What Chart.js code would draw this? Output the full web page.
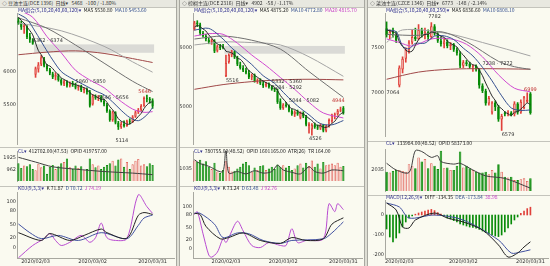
<!DOCTYPE html>
<html>
<head>
<meta charset="utf-8">
<script src="https://cdn.jsdelivr.net/npm/chart.js@4.4.1/dist/chart.umd.min.js"></script>
<style>
body { margin:0; background:#fafaf0; width:550px; height:266px; overflow:hidden; position:relative;
       font-family:"Noto Sans CJK SC","DejaVu Sans",sans-serif; }
canvas { position:absolute; }
.t { position:absolute; font-size:5px; line-height:8px; white-space:nowrap; color:#333; z-index:3; }
.hl { position:absolute; height:1px; background:#c4c4bc; }
#top { position:absolute; left:0; top:0; width:550px; height:7px; background:#e8e8e0; border-bottom:1px solid #c4c4bc; }
.sep { position:absolute; top:0; width:2px; height:266px; background:#deded4; border-left:1px solid #a8a8a0; border-right:1px solid #a8a8a0; }
.ma { color:#2c2c8c; } .k { color:#222; } .d { color:#35508f; } .m { color:#c640c6; }
</style>
</head>
<body>
<div id="top"></div>
<div class="sep" style="left:176px"></div>
<div class="sep" style="left:364px"></div>
<div class="hl" style="left:0;top:147px;width:176px"></div>
<div class="hl" style="left:0;top:186px;width:176px"></div>
<div class="hl" style="left:180px;top:147px;width:184px"></div>
<div class="hl" style="left:180px;top:186px;width:184px"></div>
<div class="hl" style="left:368px;top:141px;width:182px"></div>
<div class="hl" style="left:368px;top:195px;width:182px"></div>
<div id="charts"></div>

<div class="t" style="left:2px;top:-1px">◇ 豆油主连(DCE 1396) &nbsp;日线▾ &nbsp;&nbsp;5468 &nbsp;&nbsp;-100 / -1.80%</div>
<div class="t" style="left:182px;top:-1px">◇ 棕榈主连(DCE 2316) &nbsp;日线▾ &nbsp;&nbsp;4902 &nbsp;&nbsp;-58 / -1.17%</div>
<div class="t" style="left:370px;top:-1px">◇ 菜油主连(CZCE 1346) &nbsp;日线▾ &nbsp;&nbsp;6773 &nbsp;&nbsp;-148 / -2.14%</div>

<div class="t" style="left:18px;top:6px"><span class="ma">MA组合(5,10,20,40,60,120)▾</span> &nbsp;<span class="k">MA5 5530.80</span> &nbsp;<span class="d">MA10 5453.60</span></div>
<div class="t" style="left:194px;top:6px"><span class="ma">MA组合(5,10,20,40,60,120)▾</span> &nbsp;<span class="k">MA5 4875.20</span> &nbsp;<span class="d">MA10 4772.80</span> &nbsp;<span class="m">MA20 4815.70</span></div>
<div class="t" style="left:386px;top:6px"><span class="ma">MA组合(5,10,20,40,60,250)▾</span> &nbsp;<span class="k">MA5 6836.60</span> &nbsp;<span class="d">MA10 6808.10</span></div>

<div class="t" style="left:18px;top:147px"><span class="ma">CL▾</span> &nbsp;<span class="k">412702.00(47.53)</span> &nbsp;<span class="k">OPID 419757.00</span></div>
<div class="t" style="left:194px;top:147px"><span class="ma">CL▾</span> &nbsp;<span class="k">780755.00(48.52)</span> &nbsp;<span class="k">OPID 1601165.00</span> &nbsp;<span class="k">ATR(26)</span> &nbsp;<span class="k">TR 164.00</span></div>
<div class="t" style="left:386px;top:139px"><span class="ma">CL▾</span> &nbsp;<span class="k">133984.00(48.52)</span> &nbsp;<span class="k">OPID 58373.00</span></div>

<div class="t" style="left:18px;top:184px"><span class="ma">KDJ(9,3,3)▾</span> &nbsp;<span class="k">K 71.87</span> &nbsp;<span class="d">D 70.72</span> &nbsp;<span class="m">J 74.19</span></div>
<div class="t" style="left:194px;top:184px"><span class="ma">KDJ(9,3,3)▾</span> &nbsp;<span class="k">K 73.24</span> &nbsp;<span class="d">D 63.48</span> &nbsp;<span class="m">J 92.76</span></div>
<div class="t" style="left:386px;top:193px"><span class="ma">MACD(12,26,9)▾</span> &nbsp;<span class="k">DIFF -134.35</span> &nbsp;<span class="d">DEA -173.84</span> &nbsp;<span class="m">38.98</span></div>

<script>
// trading days (no trading Jan 24 - Feb 2)
var tradeDates = ['2020/01/09','2020/01/10','2020/01/13','2020/01/14','2020/01/15','2020/01/16','2020/01/17',
  '2020/01/20','2020/01/21','2020/01/22','2020/01/23',
  '2020/02/03','2020/02/04','2020/02/05','2020/02/06','2020/02/07','2020/02/10','2020/02/11','2020/02/12',
  '2020/02/13','2020/02/14','2020/02/17','2020/02/18','2020/02/19','2020/02/20','2020/02/21','2020/02/24',
  '2020/02/25','2020/02/26','2020/02/27','2020/02/28',
  '2020/03/02','2020/03/03','2020/03/04','2020/03/05','2020/03/06','2020/03/09','2020/03/10','2020/03/11',
  '2020/03/12','2020/03/13','2020/03/16','2020/03/17','2020/03/18','2020/03/19','2020/03/20','2020/03/23',
  '2020/03/24','2020/03/25','2020/03/26','2020/03/27','2020/03/30','2020/03/31'];
var dateTicks = ['2020/02/03','2020/03/02','2020/03/31'];

var p1Dates = tradeDates.slice(5);
var p2Dates = tradeDates.slice(0);
var p3Dates = tradeDates.slice(7);

// ---- panel 1: 豆油 [open, high, low, close]
var p1Ohlc = [[6800,6840,6740,6760],[6760,6790,6660,6690],[6700,6740,6600,6720],[6710,6720,6520,6540],
  [6550,6600,6460,6500],[6490,6520,6430,6440],[5960,6080,5920,6060],[6040,6150,6000,6120],[6120,6260,6100,6230],
  [6200,6230,6080,6100],[6100,6120,6020,6050],[6040,6060,5960,5980],[5980,6000,5900,5920],[5930,5990,5880,5960],
  [5950,5970,5860,5880],[5880,5900,5800,5820],[5820,5880,5790,5860],[5850,5870,5770,5790],[5790,5850,5770,5830],
  [5830,5860,5780,5800],[5800,5830,5740,5760],[5760,5800,5720,5780],[5780,5800,5700,5720],[5720,5760,5680,5740],
  [5740,5760,5660,5690],[5700,5720,5460,5480],[5500,5656,5490,5630],[5630,5650,5580,5600],[5600,5640,5560,5620],
  [5620,5640,5540,5560],[5560,5580,5480,5500],[5500,5520,5380,5400],[5400,5420,5240,5260],[5260,5400,5240,5380],
  [5380,5390,5200,5220],[5220,5240,5114,5150],[5150,5230,5130,5200],[5200,5250,5150,5170],[5170,5260,5160,5240],
  [5240,5280,5200,5230],[5230,5330,5220,5310],[5310,5400,5300,5380],[5380,5440,5360,5420],[5420,5500,5400,5480],
  [5480,5620,5470,5600],[5600,5646,5540,5590],[5590,5610,5520,5568],[5568,5590,5440,5468]];
var p1Ma5 = [6850,6800,6760,6700,6642,6578,6452,6332,6270,6190,6112,6096,6056,6002,5958,5912,5888,5862,5836,5820,
  5808,5792,5778,5760,5738,5682,5652,5628,5604,5578,5582,5536,5468,5420,5352,5282,5242,5224,5196,5198,
  5230,5266,5316,5364,5438,5494,5532,5541];
var p1Ma10 = [[0,6900],[3,6820],[6,6620],[9,6400],[12,6190],[15,6010],[18,5920],[21,5850],[24,5780],[27,5710],
  [30,5650],[33,5540],[36,5410],[39,5300],[42,5250],[45,5340],[47,5453]];
var p1Ma20 = [[0,6960],[5,6850],[10,6550],[15,6300],[20,6030],[25,5880],[30,5760],[35,5580],[40,5430],[44,5380],[47,5390]];
var p1Ma40 = [[0,6840],[10,6680],[20,6420],[30,6140],[40,5860],[47,5700]];
var p1Ma60 = [[0,6760],[15,6640],[30,6400],[40,6160],[47,6000]];
var p1Ma120 = [[0,6270],[10,6310],[20,6330],[30,6290],[40,6210],[47,6150]];
var p1Vol = [1500,1100,1300,1250,1400,1000,900,1450,1150,1300,600,1200,1350,1000,1250,1500,1600,1900,1150,1000,
  1300,1100,1250,900,1000,1900,1400,1150,1300,1000,1200,1350,1500,1700,1300,1800,1900,1200,1600,1000,
  1400,1700,1850,1300,1400,1250,1500,1350];
var p1Oi = [[0,53],[6,50],[12,47],[20,45.5],[30,44],[40,43],[47,42]];
var p1K = [[0,32],[8,15],[11,30],[18,15],[23,26],[29,40],[31,32],[38,20],[42,70],[44,76],[47,71.9]];
var p1D = [[0,51],[4,32],[8,19],[14,26],[21,15],[29,32],[38,19],[42,48],[44,64],[47,70.7]];
var p1J = [[0,-23],[5,4],[9,19],[11,30],[13,15],[15,4],[18,11],[22,26],[25,11],[27,21],[29,53],[31,21],[34,15],
  [38,19],[42,115],[45,89],[47,74.2]];
var p1Gap = [6, 6300, 6430];
var p1Marks = [[5,6480,'6362 · 6374'],[20,5850,'5860 · 5850'],[28,5610,'5646 · 5656'],[34,4935,'5114'],[42,5700,'5646','#c03030']];

// ---- panel 2: 棕榈
var p2Ohlc = [[6320,6450,6300,6430],[6430,6460,6360,6400],[6400,6420,6220,6250],[6250,6280,6180,6200],
  [6200,6230,6120,6150],[6140,6170,6070,6100],[6100,6150,6060,6130],[6120,6140,5920,5940],[5950,6050,5930,6030],
  [6030,6060,5970,6000],[6020,6060,5985,6000],[5520,5880,5516,5750],[5760,5900,5740,5880],[5880,5960,5850,5940],
  [5940,5950,5820,5840],[5840,5860,5700,5720],[5720,5760,5640,5660],[5660,5700,5600,5620],[5620,5660,5560,5580],
  [5580,5620,5480,5500],[5500,5560,5460,5540],[5540,5560,5420,5440],[5440,5480,5400,5460],[5460,5480,5380,5400],
  [5400,5440,5330,5360],[5360,5420,5340,5400],[5400,5410,5320,5340],[5340,5360,5284,5300],[5300,5320,5260,5280],
  [5280,5300,5060,5080],[5100,5140,4960,4980],[4980,5060,4960,5044],[5044,5082,5000,5020],[5020,5040,4920,4940],
  [4940,4960,4860,4880],[4880,4940,4840,4920],[4920,4950,4860,4880],[4820,4920,4800,4900],[4900,4920,4820,4840],
  [4840,4860,4680,4700],[4680,4740,4560,4720],[4620,4720,4526,4700],[4700,4730,4640,4660],[4660,4700,4620,4640],
  [4640,4720,4620,4700],[4700,4710,4580,4600],[4600,4700,4580,4680],[4680,4800,4660,4780],[4760,4880,4740,4860],
  [4860,4900,4800,4880],[4880,4960,4860,4940],[4940,5000,4920,4960],[4990,5010,4880,4902]];
var p2Ma5 = [6350,6380,6360,6320,6286,6220,6166,6104,6070,6040,6020,5944,5932,5914,5882,5826,5808,5756,5684,5616,
  5580,5536,5504,5468,5440,5412,5392,5360,5336,5280,5196,5137,5081,5013,4973,4961,4928,4904,4884,4848,
  4808,4772,4724,4684,4684,4660,4656,4680,4724,4760,4828,4884,4908];
var p2Ma10 = [[0,6300],[5,6330],[10,6150],[13,6000],[16,5880],[20,5720],[24,5530],[28,5400],[32,5200],[36,5020],
  [40,4870],[44,4720],[48,4700],[52,4773]];
var p2Ma20 = [[0,6200],[5,6240],[10,6230],[15,6080],[20,5880],[25,5700],[30,5500],[35,5300],[40,5080],[45,4900],[52,4816]];
var p2Ma40 = [[0,6150],[10,6200],[20,6130],[30,5980],[40,5600],[52,5164]];
var p2Ma60 = [[0,6050],[10,6100],[20,6090],[30,6050],[40,5850],[52,5520]];
var p2Ma120 = [[0,5300],[10,5380],[20,5430],[30,5460],[40,5470],[52,5460]];
var p2Vol = [1790,1660,1860,1520,1730,1240,1040,1590,830,690,970,1730,1240,830,900,1100,1240,1520,1660,1380,
  830,1170,970,1310,1380,970,1100,1240,1040,1450,1240,1380,1170,1310,970,1100,1380,1520,1170,1590,
  1310,1790,1240,1520,1100,1660,1380,1450,1520,1380,1590,1240,1310];
var p2Tr = [[0,340],[2,277],[4,252],[6,214],[8,164],[10,151],[11,529],[12,126],[15,151],[18,113],[21,164],[24,126],
  [27,151],[29,252],[31,176],[34,139],[37,113],[40,227],[42,151],[45,126],[48,176],[52,164]];
var p2K = [[0,84],[2,81],[4,53],[9,23],[12,26],[17,37],[23,19],[30,12],[34,26],[39,19],[45,23],[48,58],[52,73.2]];
var p2D = [[0,84],[2,84],[7,58],[10,26],[15,37],[19,35],[24,19],[30,12],[34,19],[45,23],[48,37],[52,63.5]];
var p2J = [[0,81],[1,88],[3,35],[5,-16],[6,-21],[8,-9],[10,23],[11,14],[12,26],[15,65],[17,42],[20,7],[23,2],[26,14],
  [30,7],[32,7],[34,47],[36,14],[39,19],[45,23],[47,107],[49,88],[50,107],[52,92.8]];
var p2Gap = [11, 5902, 6033];
var p2Marks = [[11,5440,'5516'],[27,5430,'5332 · 5360'],[27,5330,'5284 · 5292'],[33,5115,'5044 · 5082'],
  [48,5100,'4944','#c03030'],[40,4470,'4526']];

// ---- panel 3: 菜油
var p3Ohlc = [[7720,7790,7620,7640],[7640,7700,7600,7680],[7680,7720,7620,7660],[7660,7680,7560,7580],
  [7080,7300,7064,7280],[7260,7400,7220,7380],[7380,7500,7340,7480],[7480,7580,7440,7560],[7560,7700,7540,7620],
  [7620,7720,7580,7600],[7600,7760,7590,7700],[7700,7720,7620,7650],[7650,7720,7600,7680],[7680,7700,7580,7620],
  [7620,7782,7600,7740],[7740,7760,7640,7660],[7660,7680,7560,7580],[7580,7620,7520,7540],[7540,7600,7500,7570],
  [7570,7590,7500,7520],[7520,7560,7480,7540],[7540,7550,7460,7480],[7480,7500,7420,7440],[7440,7460,7280,7300],
  [7300,7360,7280,7340],[7340,7360,7300,7320],[7320,7340,7270,7290],[7290,7310,7238,7300],[7300,7310,7240,7260],
  [7260,7270,7050,7080],[7080,7100,7000,7020],[7020,7040,6860,6880],[6880,6960,6860,6940],[6780,6900,6760,6890],
  [6890,6910,6800,6840],[6840,6860,6680,6700],[6700,6760,6579,6740],[6780,6790,6740,6760],[6760,6800,6740,6780],
  [6780,6790,6740,6750],[6760,6900,6740,6880],[6880,6890,6760,6780],[6780,6920,6770,6900],[6830,6960,6820,6950],
  [6900,6999,6890,6921],[6990,7003,6760,6773]];
var p3Ma5 = [7700,7690,7680,7660,7568,7516,7476,7456,7464,7528,7592,7626,7650,7650,7678,7670,7656,7628,7618,7574,
  7550,7530,7510,7456,7420,7376,7338,7310,7302,7250,7190,7108,7036,6962,6914,6850,6822,6786,6764,6746,
  6782,6790,6818,6852,6886,6865];
var p3Ma10 = [[0,7700],[3,7680],[5,7520],[7,7490],[9,7550],[12,7553],[15,7631],[18,7634],[21,7593],[24,7497],
  [27,7410],[30,7283],[33,7132],[36,6965],[39,6830],[42,6802],[45,6808]];
var p3Ma20 = [[0,7600],[4,7560],[8,7520],[14,7600],[20,7600],[25,7540],[30,7400],[35,7200],[40,7050],[45,7010]];
var p3Ma40 = [[0,7650],[10,7640],[17,7680],[25,7570],[35,7350],[40,7290],[45,7260]];
var p3Ma60 = [[0,7560],[5,7700],[19,7660],[30,7560],[45,7410]];
var p3Ma250 = [[0,7150],[10,7230],[20,7262],[30,7268],[45,7262]];
var p3Vol = [1860,1780,1940,2030,2030,1940,1860,2590,2430,2190,3240,2840,3080,2190,2670,2430,2110,3890,2190,2270,
  2030,2030,2430,3810,2270,2430,2190,2030,1860,1780,1780,1860,1620,2030,1780,2590,1860,1380,1300,1380,
  1050,1050,1130,1220,970,1220];
var p3Oi = [[0,88],[3,80],[7,77],[9,103],[11,102],[14,95],[16,97],[17,90],[21,87],[23,88],[27,80],[31,73],[37,70],[45,58.4]];
var p3Diff = [[0,60],[3,25],[5,-60],[7,-65],[9,-25],[15,10],[19,-15],[24,-35],[30,-75],[35,-150],[38,-210],[41,-190],[43,-160],[45,-134]];
var p3Dea = [[0,60],[4,40],[7,-15],[15,0],[24,-25],[35,-125],[39,-190],[42,-185],[45,-174]];
var p3Hist = [-70,-110,-135,-115,-90,-60,-35,-15,-5,4,10,15,20,25,28,22,12,4,-5,-15,-20,-28,-35,-45,-50,-55,-60,-62,
  -66,-72,-80,-88,-95,-100,-105,-108,-100,-85,-65,-45,-25,-10,8,20,32,39];
var p3Marks = [[13,7850,'7782'],[0,7000,'7064'],[30,7320,'7238 · 7272'],[36,6530,'6579'],[43,7030,'6999','#c03030']];

var RED = '#e0403a', GREEN = '#078a07', BG = '#fafaf0';
var MA_COL = ['#2a2a2a', '#35508f', '#d04ad0', '#707070', '#a4a4a4', '#a04848'];

function place(x, y, w, h) {
  var c = document.createElement('canvas');
  c.width = w; c.height = h;
  c.style.left = x + 'px'; c.style.top = y + 'px';
  document.getElementById('charts').appendChild(c);
  return c;
}

function sparse(pairs, dates) {
  return pairs.map(function(p) { return { x: dates[p[0]], y: p[1] }; });
}

function ln(data, color, axis) {
  return { type: 'line', data: data, borderColor: color, borderWidth: 1, pointRadius: 0,
    tension: 0.3, fill: false, spanGaps: true, order: 0, yAxisID: axis || 'y' };
}

function yAxis(min, max, ticks, w) {
  return {
    min: min, max: max, position: 'left',
    grid: { display: false, drawTicks: false, tickLength: 0 },
    border: { display: true, color: '#a8a8a0' },
    afterFit: function(s) { s.width = w; },
    afterBuildTicks: function(s) { s.ticks = ticks.map(function(v) { return { value: v }; }); },
    ticks: { font: { size: 5, family: 'DejaVu Sans' }, color: '#333', padding: 1,
      callback: function(v) { return String(v); } }
  };
}

function hiddenX() {
  return { display: false, offset: true, grid: { offset: true } };
}

function dateX() {
  return {
    offset: true, grid: { display: false, drawTicks: false, tickLength: 0 },
    border: { display: true, color: '#a8a8a0' },
    afterFit: function(s) { s.height = 8; },
    ticks: { autoSkip: false, maxRotation: 0, minRotation: 0, padding: 1,
      font: { size: 5, family: 'DejaVu Sans' }, color: '#333',
      callback: function(v) {
        var l = this.getLabelForValue(v);
        return dateTicks.indexOf(l) >= 0 ? l : '';
      } }
  };
}

function opts(scales, pad) {
  return { responsive: false, animation: false, events: [],
    layout: { padding: pad },
    plugins: { legend: { display: false }, tooltip: { enabled: false } },
    scales: scales };
}

function marksPlugin(gap, marks) {
  return {
    id: 'marks',
    beforeDatasetsDraw: function(chart) {
      if (!gap) return;
      var ctx = chart.ctx, x = chart.scales.x, y = chart.scales.y;
      var n = chart.data.datasets[0].data.length;
      var x0 = x.getPixelForValue(gap[0]) - 1.5, x1 = x.getPixelForValue(n - 1) + 1.5;
      var yt = y.getPixelForValue(gap[2]), yb = y.getPixelForValue(gap[1]);
      ctx.save();
      ctx.fillStyle = 'rgba(196,196,196,0.6)';
      ctx.fillRect(x0, yt, x1 - x0, yb - yt);
      ctx.restore();
    },
    afterDatasetsDraw: function(chart) {
      var ctx = chart.ctx, x = chart.scales.x, y = chart.scales.y;
      ctx.save();
      ctx.font = '5px "DejaVu Sans"';
      ctx.textBaseline = 'middle';
      marks.forEach(function(m) {
        ctx.fillStyle = m[3] || '#333';
        ctx.fillText(m[2], x.getPixelForValue(m[0]), y.getPixelForValue(m[1]));
      });
      ctx.restore();
    }
  };
}

function candleSets(ohlc) {
  var up = ohlc.map(function(d) { return d[3] >= d[0]; });
  return [
    { type: 'bar', data: ohlc.map(function(d) { return [d[2], d[1]]; }),
      backgroundColor: up.map(function(u) { return u ? RED : GREEN; }),
      barThickness: 1, grouped: false, order: 3 },
    { type: 'bar', data: ohlc.map(function(d) { return [Math.min(d[0], d[3]), Math.max(d[0], d[3])]; }),
      backgroundColor: up.map(function(u) { return u ? BG : GREEN; }),
      borderColor: up.map(function(u) { return u ? RED : GREEN; }),
      borderWidth: 1, borderSkipped: false, barPercentage: 1, categoryPercentage: 0.8,
      grouped: false, order: 2 }
  ];
}

function volSet(vol, ohlc) {
  var up = ohlc.map(function(d) { return d[3] >= d[0]; });
  return { type: 'bar', data: vol,
    backgroundColor: up.map(function(u) { return u ? '#f4d4d0' : GREEN; }),
    borderColor: up.map(function(u) { return u ? '#e05a50' : GREEN; }),
    borderWidth: 0.8, borderSkipped: 'start', barPercentage: 1, categoryPercentage: 0.78,
    grouped: false, order: 2 };
}

function labelsFor(dates, blanks) {
  return dates.concat(Array(blanks).fill(''));
}

// ================= panel 1
(function() {
  var L = labelsFor(p1Dates, 7), X = 0, W = 176, AW = 17;
  new Chart(place(X, 9, W, 139), {
    type: 'bar',
    data: { labels: L, datasets: candleSets(p1Ohlc).concat([
      ln(p1Ma5, MA_COL[0]), ln(sparse(p1Ma10, p1Dates), MA_COL[1]), ln(sparse(p1Ma20, p1Dates), MA_COL[2]),
      ln(sparse(p1Ma40, p1Dates), MA_COL[3]), ln(sparse(p1Ma60, p1Dates), MA_COL[4]),
      ln(sparse(p1Ma120, p1Dates), MA_COL[5])]) },
    options: opts({ x: hiddenX(), y: yAxis(4890, 6915, [5500, 6000], AW) }, { top: 2, bottom: 2, right: 2 }),
    plugins: [marksPlugin(p1Gap, p1Marks)]
  });
  new Chart(place(X, 147, W, 38), {
    type: 'bar',
    data: { labels: L, datasets: [volSet(p1Vol, p1Ohlc), ln(sparse(p1Oi, p1Dates), '#404040', 'y2')] },
    options: opts({ x: hiddenX(), y: yAxis(0, 2523, [962, 1925], AW), y2: { display: false, min: 38, max: 57 } },
      { right: 2 })
  });
  new Chart(place(X, 188, W, 78), {
    type: 'bar',
    data: { labels: L, datasets: [ln(sparse(p1K, p1Dates), '#222'), ln(sparse(p1D, p1Dates), '#4050a0'),
      ln(sparse(p1J, p1Dates), '#b84ad0')] },
    options: opts({ x: dateX(), y: yAxis(-23.4, 121, [0, 20, 50, 80, 100], AW) }, { top: 2, right: 2 })
  });
})();

// ================= panel 2
(function() {
  var L = labelsFor(p2Dates, 6), X = 180, W = 184, AW = 13;
  new Chart(place(X, 9, W, 139), {
    type: 'bar',
    data: { labels: L, datasets: candleSets(p2Ohlc).concat([
      ln(p2Ma5, MA_COL[0]), ln(sparse(p2Ma10, p2Dates), MA_COL[1]), ln(sparse(p2Ma20, p2Dates), MA_COL[2]),
      ln(sparse(p2Ma40, p2Dates), MA_COL[3]), ln(sparse(p2Ma60, p2Dates), MA_COL[4]),
      ln(sparse(p2Ma120, p2Dates), MA_COL[5])]) },
    options: opts({ x: hiddenX(), y: yAxis(4376, 6590, [5000, 6000], AW) }, { top: 2, bottom: 2, right: 2 }),
    plugins: [marksPlugin(p2Gap, p2Marks)]
  });
  new Chart(place(X, 147, W, 38), {
    type: 'bar',
    data: { labels: L, datasets: [volSet(p2Vol, p2Ohlc), ln(sparse(p2Tr, p2Dates), '#404040', 'y2')] },
    options: opts({ x: hiddenX(), y: yAxis(0, 2622, [1035], AW), y2: { display: false, min: 0, max: 479 } },
      { right: 2 })
  });
  new Chart(place(X, 188, W, 78), {
    type: 'bar',
    data: { labels: L, datasets: [ln(sparse(p2K, p2Dates), '#222'), ln(sparse(p2D, p2Dates), '#4050a0'),
      ln(sparse(p2J, p2Dates), '#b84ad0')] },
    options: opts({ x: dateX(), y: yAxis(-23, 135, [0, 20, 50, 80, 100], AW) }, { top: 2, right: 2 })
  });
})();

// ================= panel 3
(function() {
  var L = labelsFor(p3Dates, 5), X = 368, W = 182, AW = 17;
  new Chart(place(X, 9, W, 131), {
    type: 'bar',
    data: { labels: L, datasets: candleSets(p3Ohlc).concat([
      ln(p3Ma5, MA_COL[0]), ln(sparse(p3Ma10, p3Dates), MA_COL[1]), ln(sparse(p3Ma20, p3Dates), MA_COL[2]),
      ln(sparse(p3Ma40, p3Dates), MA_COL[3]), ln(sparse(p3Ma60, p3Dates), MA_COL[4]),
      ln(sparse(p3Ma250, p3Dates), MA_COL[5])]) },
    options: opts({ x: hiddenX(), y: yAxis(6517, 7889, [7000, 7500], AW) }, { top: 2, bottom: 2, right: 2 }),
    plugins: [marksPlugin(null, p3Marks)]
  });
  new Chart(place(X, 145, W, 50), {
    type: 'bar',
    data: { labels: L, datasets: [volSet(p3Vol, p3Ohlc), ln(sparse(p3Oi, p3Dates), '#404040', 'y2')] },
    options: opts({ x: hiddenX(), y: yAxis(0, 4050, [2035], AW), y2: { display: false, min: 55, max: 105 } },
      { right: 2 })
  });
  var histCol = p3Hist.map(function(v) { return v >= 0 ? RED : GREEN; });
  new Chart(place(X, 196, W, 70), {
    type: 'bar',
    data: { labels: L, datasets: [
      { type: 'bar', data: p3Hist, backgroundColor: histCol, barThickness: 1, order: 2 },
      ln(sparse(p3Diff, p3Dates), '#222'), ln(sparse(p3Dea, p3Dates), '#4050a0')] },
    options: opts({ x: dateX(), y: yAxis(-215, 75, [-200, -100, 0], AW) }, { top: 4, right: 2 })
  });
})();
</script>
</body>
</html>
